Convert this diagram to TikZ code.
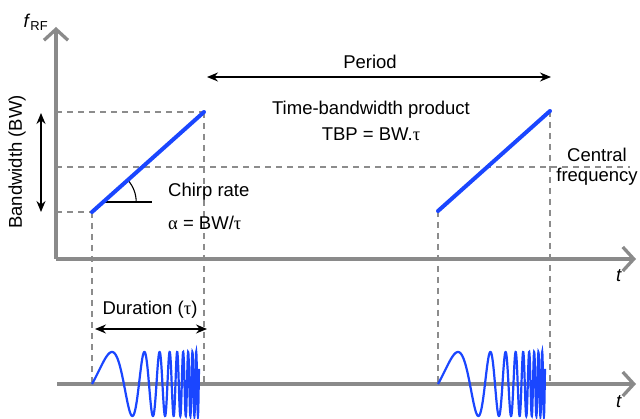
\documentclass[tikz,border=0pt]{standalone}
\usepackage{fontspec}
\setmainfont{Liberation Sans}
\newfontfamily\grk{Liberation Serif}
\usetikzlibrary{arrows.meta}
\definecolor{axisgray}{HTML}{8A8A8A}
\definecolor{dashgray}{HTML}{8C8C8C}
\definecolor{chirpblue}{HTML}{1A46FF}
\begin{document}
\begin{tikzpicture}[x=1pt,y=1pt,
  axis/.style={draw=axisgray,line width=3.3pt,-{Straight Barb[length=11pt,width=24pt]}},
  guide/.style={draw=dashgray,line width=1.4pt,dash pattern=on 6pt off 5pt},
  ramp/.style={draw=chirpblue,line width=4pt,line cap=round},
  wave/.style={draw=chirpblue,line width=2.2pt},
  dim/.style={draw=black,line width=1.4pt,{Stealth[length=11pt,width=9pt]}-{Stealth[length=11pt,width=9pt]}},
  lbl/.style={font=\fontsize{18.5}{22}\selectfont,inner sep=0pt},
]
\useasboundingbox (0,0) rectangle (640,418);
% coordinates
\coordinate (O) at (56,159);
\coordinate (Ytip) at (56,391);
\coordinate (Xtip) at (636,159);
\coordinate (L0) at (57,34);
\coordinate (Ltip) at (636,34);
\coordinate (A1) at (92,206);
\coordinate (B1) at (204,306);
\coordinate (A2) at (438,207);
\coordinate (B2) at (550,307);
\coordinate (A1b) at (92,34);
\coordinate (B1b) at (204,34);
\coordinate (A2b) at (438,34);
\coordinate (B2b) at (550,34);
\coordinate (Htop) at (56,306);
\coordinate (Hbot) at (56,206);
\coordinate (Cl) at (56,251);
\coordinate (Cr) at (630,251);
\coordinate (Ac) at (103.2,216);
\coordinate (Ae) at (152,216);
% dashed guides
\draw[guide] (Htop) -- (B1);
\draw[guide] (Hbot) -- (A1);
\draw[guide] (Cl) -- (Cr);
\draw[guide] (A1) -- (A1b);
\draw[guide] (B1) -- (B1b);
\draw[guide] (A2) -- (A2b);
\draw[guide] (B2) -- (B2b);
% axes
\draw[axis] (O) -- (Ytip);
\draw[axis] (O) -- (Xtip);
\draw[axis] (L0) -- (Ltip);
% angle mark
\draw[line width=1.1pt] (Ac) -- (Ae);
\draw[line width=1.1pt] ([shift={(33,0)}]Ac) arc[start angle=0,end angle=41.8,radius=33];
% chirp ramps
\draw[ramp] (A1) -- (B1);
\draw[ramp] (A2) -- (B2);
% waves
\draw[wave] plot[domain=0:107,samples=700,smooth] ({92+\x},{34+32*sin(360*0.264*(exp(\x/30)-1))});
\draw[wave] plot[domain=0:107,samples=700,smooth] ({438+\x},{34+32*sin(360*0.264*(exp(\x/30)-1))});
% dimension arrows
\coordinate (BWt) at (41,305);
\coordinate (BWb) at (41,206);
\draw[dim] (BWt) -- (BWb);
\coordinate (Pl) at (207,341);
\coordinate (Pr) at (551,341);
\draw[dim] (Pl) -- (Pr);
\coordinate (Dl) at (95,89);
\coordinate (Dr) at (207,89);
\draw[dim] (Dl) -- (Dr);
% labels
\node[lbl] (fl) at (36,396) {\textit{f}\textsubscript{RF}};
\node[lbl,rotate=90] (bw) at (17,256) {Bandwidth (BW)};
\node[lbl] (per) at (370,356) {Period};
\node[lbl] (tbp1) at (371,308) {Time-bandwidth product};
\node[lbl] (tbp2) at (371,284) {TBP = BW.{\grk τ}};
\node[lbl] (cf1) at (597,263) {Central};
\node[lbl] (cf2) at (597,241) {frequency};
\node[lbl,anchor=west] (cr) at (168,226) {Chirp rate};
\node[lbl,anchor=west] (al) at (168,195) {{\grk α} = BW/{\grk τ}};
\node[lbl] (dur) at (150,108) {Duration ({\grk τ})};
\node[lbl] (t1) at (619,142) {\textit{t}};
\node[lbl] (t2) at (619,16) {\textit{t}};
\end{tikzpicture}
\end{document}
